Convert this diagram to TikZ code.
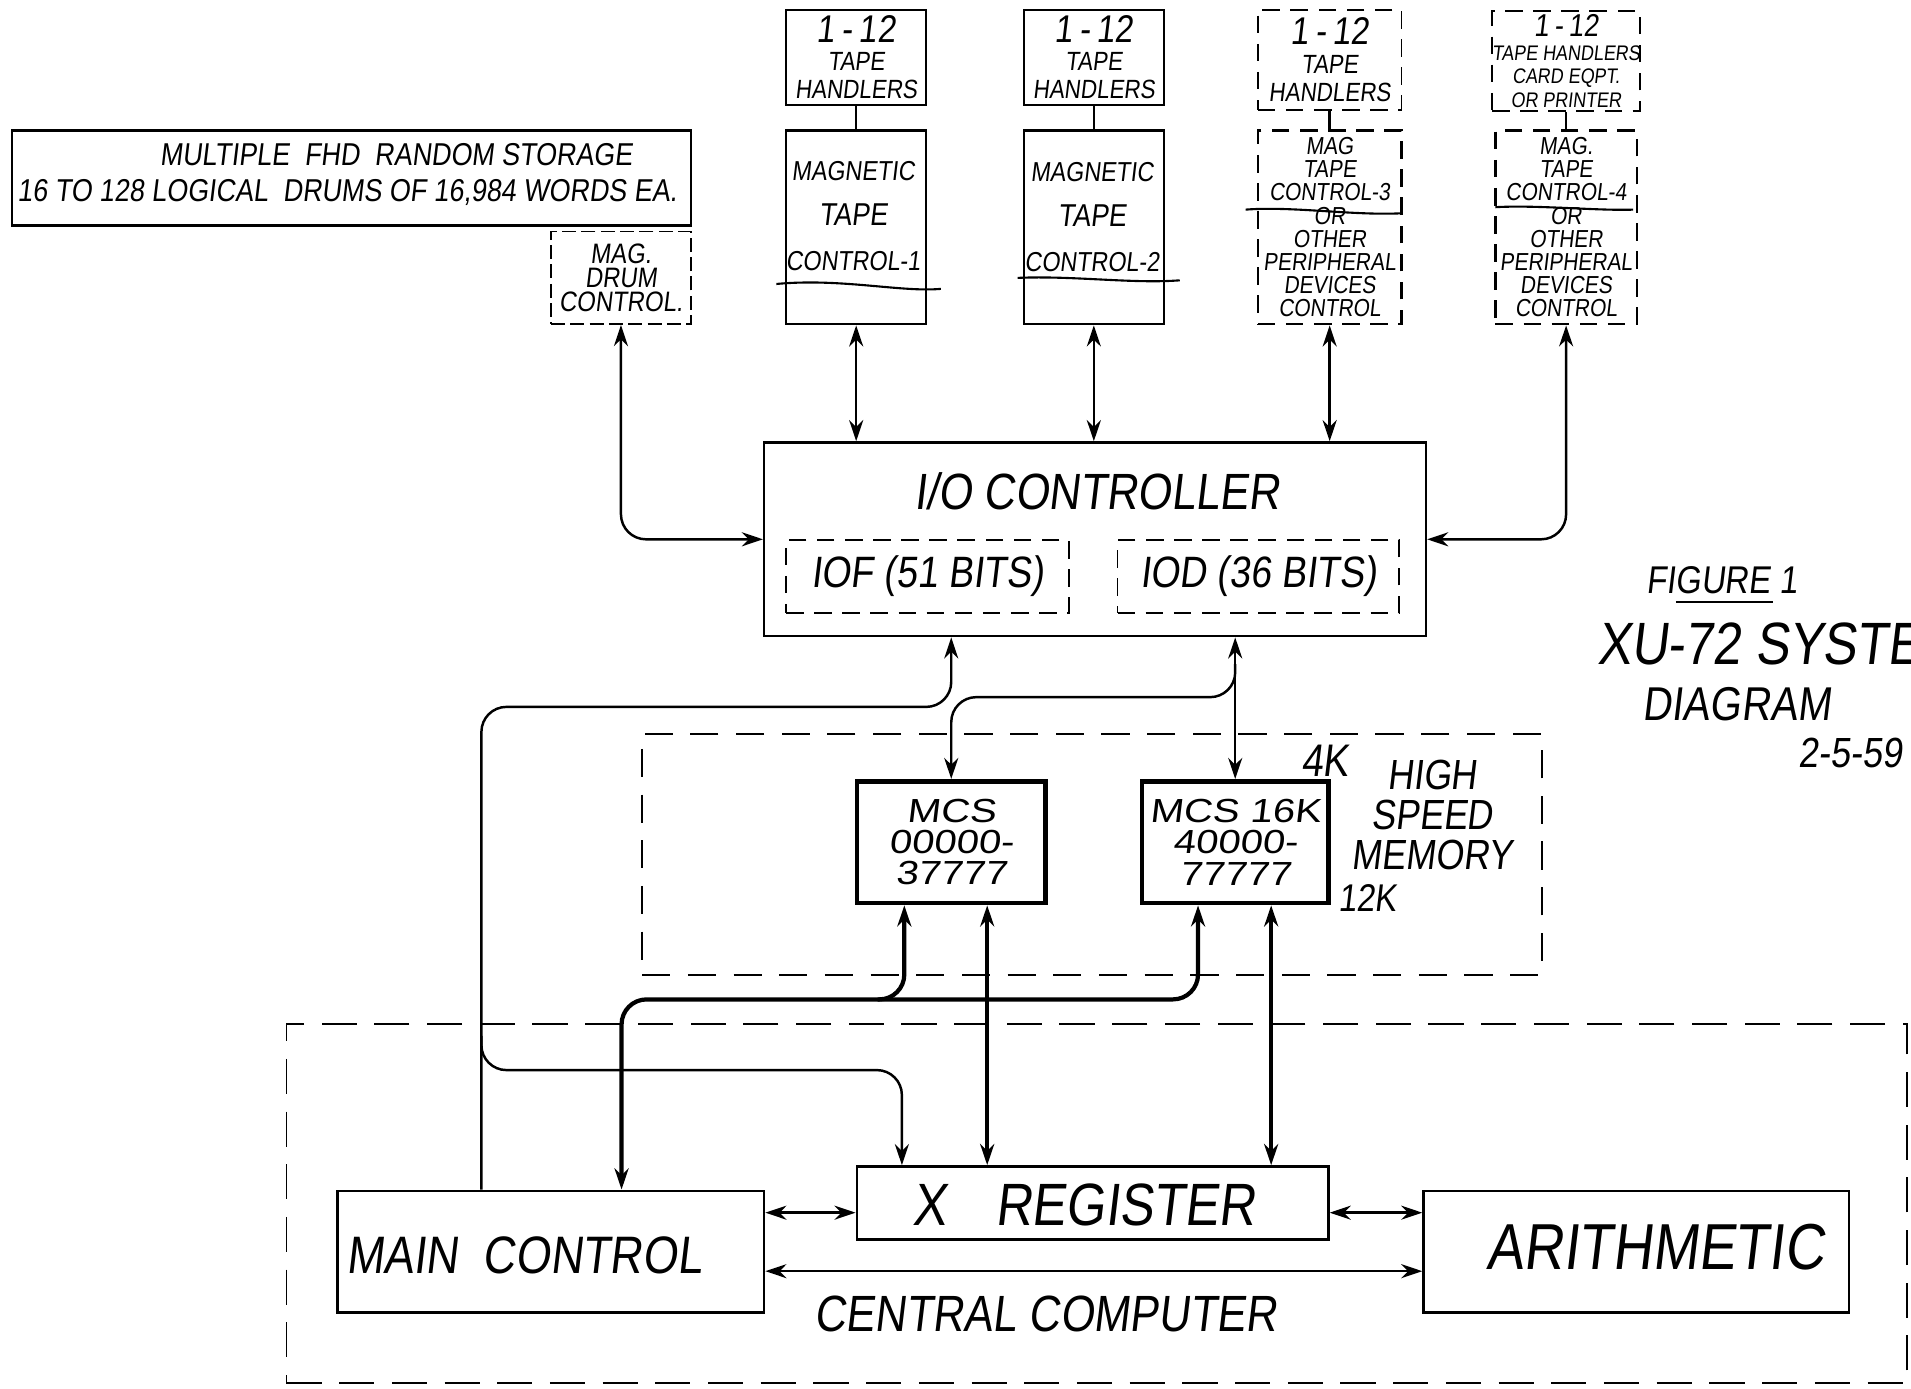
\documentclass[tikz,border=0pt]{standalone}
\usepackage{fontspec}
\usetikzlibrary{arrows.meta}
\newfontfamily\hand[FakeStretch=0.85,FakeSlant=0.12]{Liberation Sans}
\newfontfamily\handw[FakeStretch=1.2,FakeSlant=0.12]{Liberation Sans}
\newcommand\handsz[2]{\hand\fontsize{#1}{#2}\selectfont}
\newcommand\handwsz[2]{\handw\fontsize{#1}{#2}\selectfont}
\newlength\dpx
\setlength\dpx{0.012188cm}

\begin{document}
\begin{tikzpicture}[x=0.012188cm, y=-0.012188cm,
  box/.style={draw, line width=0.7pt, inner sep=0pt, align=center},
  dbox/.style={box, dash pattern=on 5pt off 3pt},
  mcsbox/.style={box, line width=1.3pt},
  txt/.style={inner sep=0pt, align=center},
  link/.style={line width=0.7pt, rounded corners=0.25cm},
  bus/.style={link, line width=1.2pt},
  >={Stealth[length=6pt,width=4pt]}]
  \useasboundingbox (0,0) rectangle (1568,1139);

  % drum storage
  \node[box, minimum width=557\dpx, minimum height=78\dpx] (storage) at (288.5,146) {};
  \node[txt, font=\handsz{9}{10}] (storage-a) at (325,127) {MULTIPLE\ \ FHD\ \ RANDOM STORAGE};
  \node[txt, font=\handsz{9}{10}] (storage-b) at (285,158) {16 TO 128 LOGICAL\ \ DRUMS OF 16,984 WORDS EA.};
  \node[box, line width=0.5pt, dash pattern=on 4pt off 1.5pt, minimum width=115\dpx, minimum height=76\dpx,
        font=\handsz{8}{6.9}] (drum) at (509.5,228) {MAG.\\DRUM\\CONTROL.};

  % tape handlers
  \node[box, minimum width=115\dpx, minimum height=78\dpx, font=\handsz{7.5}{8}] (th1) at (702.5,47)
    {{\fontsize{11}{8}\selectfont 1\,-\,12}\\TAPE\\HANDLERS};
  \node[box, minimum width=115\dpx, minimum height=78\dpx, font=\handsz{7.5}{8}] (th2) at (897.5,47)
    {{\fontsize{11}{8}\selectfont 1\,-\,12}\\TAPE\\HANDLERS};
  \node[dbox, line width=0.5pt, minimum width=118\dpx, minimum height=82\dpx, font=\handsz{7.5}{8}] (th3) at (1091,49)
    {{\fontsize{11}{8}\selectfont 1\,-\,12}\\TAPE\\HANDLERS};
  \node[dbox, minimum width=116\dpx, minimum height=82\dpx, font=\handsz{6}{6.7}] (th4) at (1285,50)
    {{\fontsize{9}{6.7}\selectfont 1\,-\,12}\\TAPE HANDLERS\\CARD EQPT.\\OR PRINTER};

  % tape controls
  \node[box, minimum width=115\dpx, minimum height=159\dpx] (tc1) at (702.5,186.5) {};
  \node[txt, font=\handsz{7.8}{12.8}] (tc1-t) at (700,177) {MAGNETIC\\{\fontsize{9}{12.8}\selectfont TAPE}\\CONTROL-1};
  \node[box, minimum width=115\dpx, minimum height=159\dpx] (tc2) at (897.5,186.5) {};
  \node[txt, font=\handsz{7.8}{12.8}] (tc2-t) at (896,178) {MAGNETIC\\{\fontsize{9}{12.8}\selectfont TAPE}\\CONTROL-2};
  \node[dbox, minimum width=118\dpx, minimum height=159\dpx, font=\handsz{7}{6.6}] (tc3) at (1091,186.5)
    {MAG\\TAPE\\CONTROL-3\\OR\\OTHER\\PERIPHERAL\\DEVICES\\CONTROL};
  \node[dbox, minimum width=116\dpx, minimum height=159\dpx, font=\handsz{7}{6.6}] (tc4) at (1285,186.5)
    {MAG.\\TAPE\\CONTROL-4\\OR\\OTHER\\PERIPHERAL\\DEVICES\\CONTROL};
  \draw[line width=0.6pt] (637,233) .. controls (690,228) and (740,240) .. (772,237);
  \draw[line width=0.6pt] (835,228) .. controls (880,226) and (930,233) .. (968,230);
  \draw[line width=0.6pt] (1022,172) .. controls (1060,169) and (1110,177) .. (1150,175);
  \draw[line width=0.6pt] (1227,170) .. controls (1260,168) and (1310,173) .. (1340,172);

  % I/O controller
  \node[box, minimum width=543\dpx, minimum height=159\dpx] (ioc) at (898.5,442.5) {};
  \node[txt, font=\handsz{14.5}{16}] (ioc-t) at (900,403) {I/O CONTROLLER};
  \node[dbox, line width=0.5pt, minimum width=232\dpx, minimum height=60\dpx, font=\handsz{12.5}{14}] (iof) at (761,473) {IOF (51 BITS)};
  \node[dbox, line width=0.5pt, minimum width=231\dpx, minimum height=60\dpx, font=\handsz{12.5}{14}] (iod) at (1032.5,473) {IOD (36 BITS)};

  % high speed memory
  \node[box, line width=0.5pt, dash pattern=on 8pt off 5pt, minimum width=738\dpx, minimum height=198\dpx] (hsm) at (896,701) {};
  \node[mcsbox, minimum width=155\dpx, minimum height=100\dpx, font=\handwsz{9.5}{8.9}] (mcs1) at (780.5,691) {MCS\\00000-\\37777};
  \node[mcsbox, minimum width=153\dpx, minimum height=100\dpx, font=\handwsz{9.5}{8.9}] (mcs2) at (1013.5,691) {MCS 16K\\40000-\\77777};
  \node[txt, font=\handsz{13}{14}] (mem4k) at (1087,624) {4K};
  \node[txt, font=\handsz{12}{11.4}] (hsm-t) at (1175,669) {HIGH\\SPEED\\MEMORY};
  \node[txt, font=\handsz{11}{12}] (mem12k) at (1122,737) {12K};

  % central computer
  \node[box, line width=0.5pt, dash pattern=on 10pt off 5pt, minimum width=1330\dpx, minimum height=295\dpx] (cc) at (900,987.5) {};
  \node[box, minimum width=350\dpx, minimum height=100\dpx] (main) at (452,1027) {};
  \node[txt, font=\handsz{15}{16}] (main-t) at (430,1030) {MAIN\ \ CONTROL};
  \node[box, minimum width=387\dpx, minimum height=60\dpx] (xreg) at (896.5,987) {};
  \node[txt, font=\handsz{17}{18}] (xreg-t) at (889,989) {X\hspace{14pt}REGISTER};
  \node[box, minimum width=349\dpx, minimum height=100\dpx] (arith) at (1342.5,1027) {};
  \node[txt, font=\handsz{18.5}{20}] (arith-t) at (1358,1023) {ARITHMETIC};
  \node[txt, font=\handsz{14.5}{16}] (cc-t) at (858,1078) {CENTRAL COMPUTER};

  % title
  \node[txt, font=\handsz{11}{12}] (fig-t) at (1413,476) {FIGURE 1};
  \draw[line width=0.6pt] (1375,494) -- (1455,494);
  \node[txt, anchor=west, font=\handsz{17}{18}] (fig-a) at (1310,528) {XU-72 SYSTEM};
  \node[txt, font=\handsz{13.5}{14}] (fig-b) at (1425,578) {DIAGRAM};
  \node[txt, anchor=west, font=\handsz{12}{13}] (fig-c) at (1475,618) {2-5-59};

  % tape side
  \foreach \i in {1,...,4}
    \draw[link] (th\i) -- (tc\i);
  \foreach \i in {1,2,3}
    \draw[link, <->] (tc\i.south) -- (tc\i.south |- ioc.north);
  \draw[link, <->] (tc4.south) |- (ioc.east);
  \draw[link, <->] (drum.south) |- (ioc.west);

  % I/O to central computer and memory
  \draw[link, ->] (main.north -| 395,0) |- (mcs1.north |- 0,580) -- (ioc.south -| mcs1.north);
  \draw[link, ->] (395,850) |- (740,878) -- (xreg.north -| 740,0);
  \draw[link, <->] (ioc.south -| mcs2.north) -- (mcs2.north);
  \draw[link, ->] (mcs2.north |- 0,545) |- (mcs1.north |- 0,572) -- (mcs1.north);

  % memory to central computer
  \draw[bus, <->] (main.north -| 510,0) |- (983,820) -- (mcs2.south -| 983,0);
  \draw[bus, ->] (720,820) -| (mcs1.south -| 742,0);
  \draw[bus, <->] (mcs1.south -| 810,0) -- (xreg.north -| 810,0);
  \draw[bus, <->] (mcs2.south -| 1043,0) -- (xreg.north -| 1043,0);

  % inside central computer
  \draw[link, <->] (main.east |- 0,995) -- (xreg.west |- 0,995);
  \draw[link, <->] (xreg.east |- 0,995) -- (arith.west |- 0,995);
  \draw[link, <->] (main.east |- 0,1043) -- (arith.west |- 0,1043);
\end{tikzpicture}
\end{document}
